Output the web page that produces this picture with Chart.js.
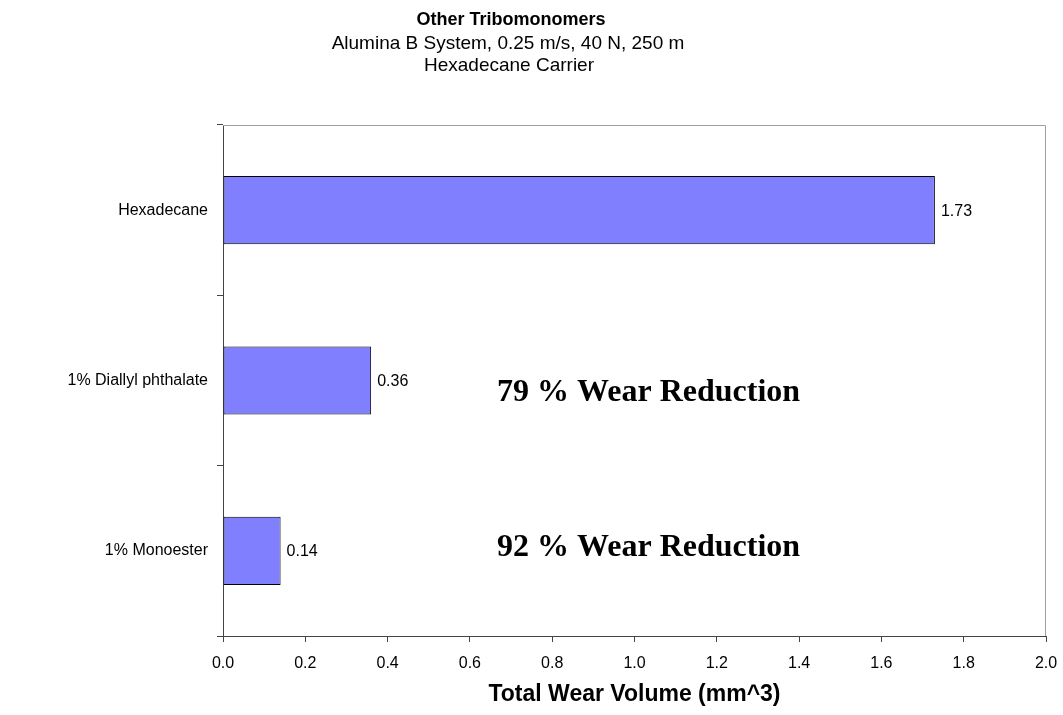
<!DOCTYPE html>
<html>
<head>
<meta charset="utf-8">
<script src="https://cdn.jsdelivr.net/npm/chart.js@4/dist/chart.umd.min.js"></script>
<style>
  html, body { margin: 0; padding: 0; background: #fff; }
  #wrap { width: 1063px; height: 715px; }
</style>
</head>
<body>
<div id="wrap"><canvas id="chart"></canvas></div>
<script>
// chart data
const categories = ['Hexadecane', '1% Diallyl phthalate', '1% Monoester'];
const wearVolume = [1.73, 0.36, 0.14];
const valueLabels = ['1.73', '0.36', '0.14'];
const titleLines = ['Other Tribomonomers', 'Alumina B System, 0.25 m/s, 40 N, 250 m', 'Hexadecane Carrier'];
const notes = [
  { category: 1, text: '79 % Wear Reduction' },
  { category: 2, text: '92 % Wear Reduction' }
];

const sans = '"Liberation Sans", Arial, sans-serif';
const serif = '"Liberation Serif", "Times New Roman", serif';

// titles, plot frame, bar values and wear notes
const decorations = {
  id: 'decorations',
  beforeDatasetsDraw(chart) {
    const { ctx, chartArea } = chart;
    ctx.save();
    ctx.strokeStyle = '#a0a0a0';
    ctx.lineWidth = 1;
    ctx.beginPath();
    ctx.moveTo(chartArea.left, chartArea.top + 0.5);
    ctx.lineTo(chartArea.right - 0.5, chartArea.top + 0.5);
    ctx.lineTo(chartArea.right - 0.5, chartArea.bottom);
    ctx.stroke();
    ctx.restore();
  },
  afterDraw(chart) {
    const { ctx } = chart;
    const x = chart.scales.x, y = chart.scales.y;
    ctx.save();
    ctx.fillStyle = '#000';
    ctx.textAlign = 'center';
    ctx.textBaseline = 'middle';
    ctx.font = 'bold 18px ' + sans;
    ctx.fillText(titleLines[0], 511, 20);
    ctx.font = '19px ' + sans;
    ctx.fillText(titleLines[1], 508, 44);
    ctx.fillText(titleLines[2], 509, 66);

    // value labels at bar ends
    ctx.textAlign = 'left';
    ctx.font = '16px ' + sans;
    wearVolume.forEach((v, i) => {
      ctx.fillText(valueLabels[i], x.getPixelForValue(v) + 6, y.getPixelForValue(i) + 1);
    });

    // reduction notes
    ctx.font = 'bold 32px ' + serif;
    notes.forEach((n, k) => {
      const off = k === 0 ? 12 : -3;
      ctx.fillText(n.text, x.getPixelForValue(0.666), y.getPixelForValue(n.category) + off);
    });
    ctx.restore();
  }
};

const ctx = document.getElementById('chart');
new Chart(ctx, {
  type: 'bar',
  data: {
    labels: categories,
    datasets: [{
      data: wearVolume,
      backgroundColor: '#8080ff',
      borderColor: '#000000',
      borderWidth: 1,
      borderSkipped: false,
      barPercentage: 0.4,
      categoryPercentage: 1.0
    }]
  },
  options: {
    indexAxis: 'y',
    responsive: true,
    maintainAspectRatio: false,
    animation: false,
    layout: {
      padding: { top: 125, right: 17, left: 0, bottom: 0 }
    },
    plugins: {
      legend: { display: false },
      tooltip: { enabled: false },
      title: { display: false }
    },
    scales: {
      x: {
        min: 0,
        max: 2.0,
        ticks: {
          stepSize: 0.2,
          color: '#000',
          font: { family: sans, size: 16 },
          padding: 12,
          callback: v => Number(v).toFixed(1)
        },
        grid: {
          drawOnChartArea: false,
          drawTicks: true,
          tickLength: 6,
          color: '#444'
        },
        border: { color: '#444', width: 1 },
        title: {
          display: true,
          text: 'Total Wear Volume (mm^3)',
          color: '#000',
          font: { family: sans, size: 23, weight: 'bold' },
          padding: { top: 4, bottom: 7 }
        },
        afterFit(scale) {
          scale.height = 79;
          scale.paddingLeft = 0;
          scale.paddingRight = 0;
        }
      },
      y: {
        offset: true,
        ticks: {
          color: '#000',
          font: { family: sans, size: 16 },
          padding: 9
        },
        grid: {
          offset: true,
          drawOnChartArea: false,
          drawTicks: true,
          tickLength: 6,
          color: '#444'
        },
        border: { color: '#444', width: 1 },
        afterFit(scale) { scale.width = 223; }
      }
    }
  },
  plugins: [decorations]
});
</script>
</body>
</html>
